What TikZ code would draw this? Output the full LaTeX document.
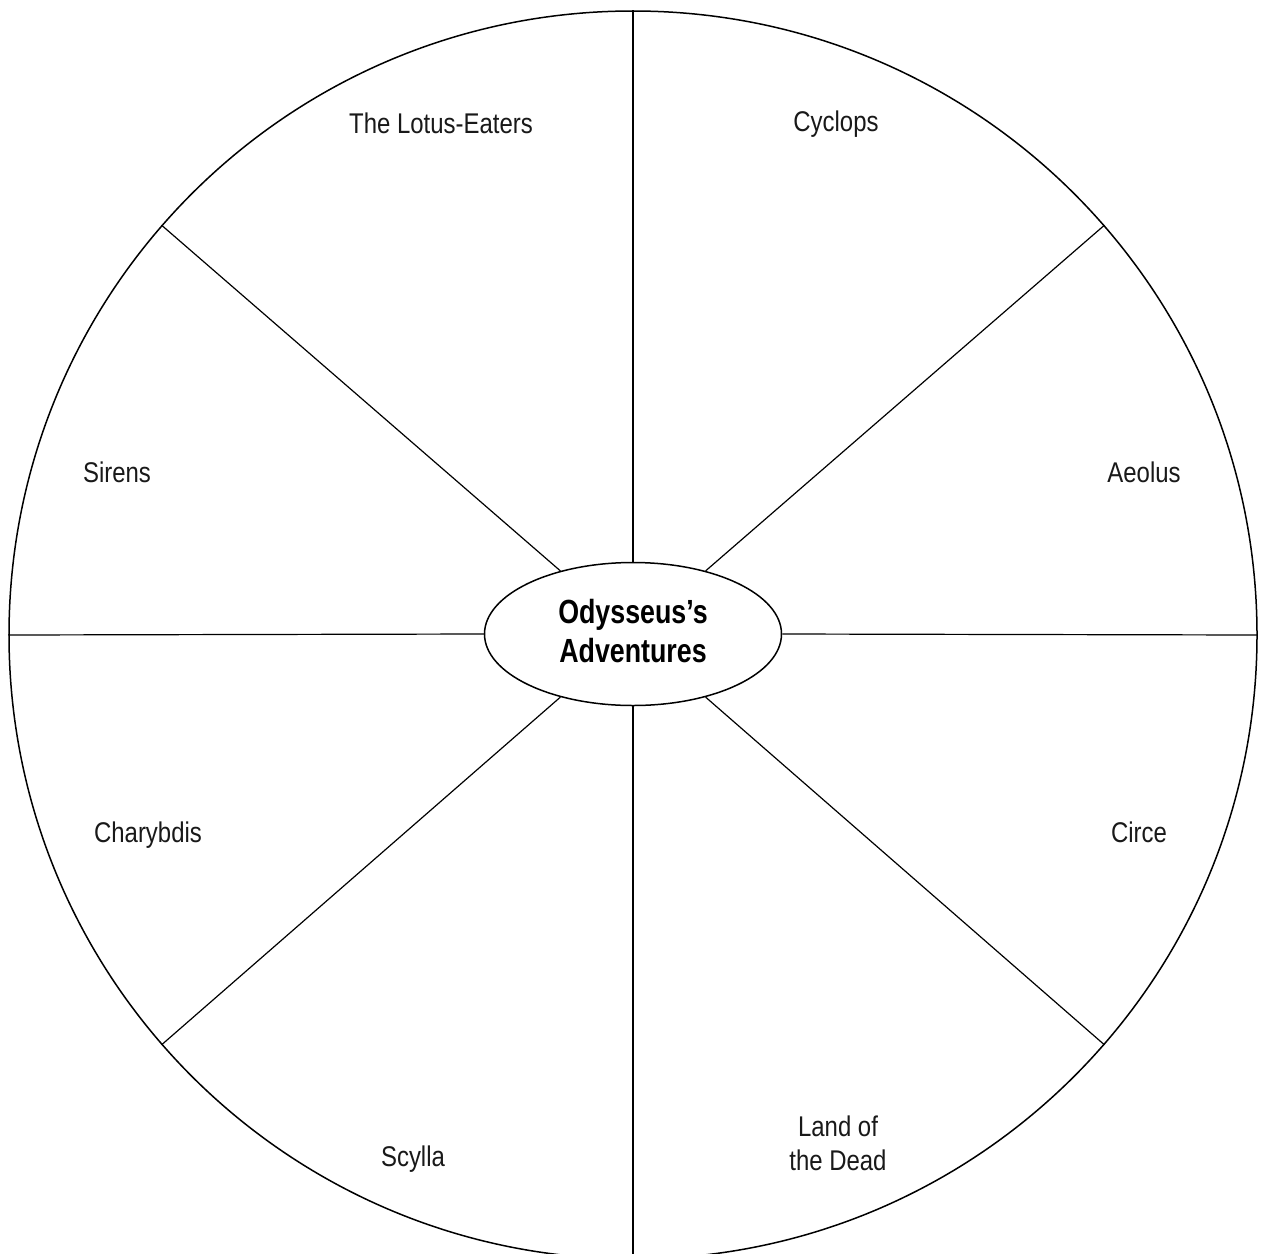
\documentclass[tikz,border=0pt]{standalone}
\usepackage{fontspec}
\setmainfont[FakeStretch=0.84]{Liberation Sans}
\newfontfamily\titlefont[FakeStretch=0.8]{Liberation Sans}
\usetikzlibrary{shapes.geometric}
\tikzset{
  spoke/.style={draw=black, line width=1.2pt},
  label/.style={anchor=base, inner sep=0pt, font=\fontsize{28.5}{34}\selectfont, text=black!90},
}
\begin{document}
\begin{tikzpicture}[x=1pt,y=-1pt]
\useasboundingbox[fill=white] (0,0) rectangle (1261,1253);
\node[circle, draw=black, line width=1.5pt, minimum size=1248pt, inner sep=0pt] (ring) at (633,635) {};
\node[ellipse, draw=black, line width=1.5pt, fill=white, minimum width=297pt, minimum height=143pt, inner sep=0pt] (c) at (633,634) {};
\node[anchor=base, inner sep=0pt, align=center, font=\titlefont\bfseries\fontsize{33.5}{39}\selectfont] (title) at (633,662) {Odysseus’s\\Adventures};
\foreach \a in {0,41,90,139,180,221,270,319}{
  \draw[spoke] (c.\a) -- (ring.\a);
}
\node[label] (lotus) at (441,133) {The Lotus-Eaters};
\node[label] (cyclops) at (836,131) {Cyclops};
\node[label] (sirens) at (117,482) {Sirens};
\node[label] (aeolus) at (1144,482) {Aeolus};
\node[label] (charybdis) at (148,842) {Charybdis};
\node[label] (circe) at (1139,842) {Circe};
\node[label] (scylla) at (413,1166) {Scylla};
\node[label, align=center] (dead) at (838,1170) {Land of\\the Dead};
\end{tikzpicture}
\end{document}
